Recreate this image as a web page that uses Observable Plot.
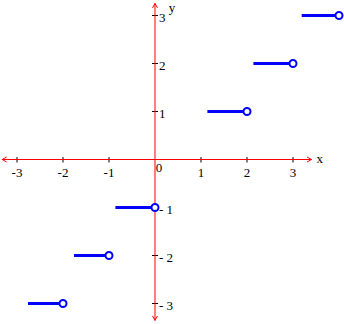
<!DOCTYPE html>
<html>
<head>
<meta charset="utf-8">
<script src="https://cdn.jsdelivr.net/npm/d3@7"></script>
<script src="https://cdn.jsdelivr.net/npm/@observablehq/plot@0.6"></script>
<style>
  html, body { margin: 0; padding: 0; background: white; }
  svg { display: block; }
</style>
</head>
<body>
<div id="chart"></div>
<script>
// Data
const xTicks = [-3, -2, -1, 1, 2, 3];
const xTickLabels = ["-3", "-2", "-1", "1", "2", "3"];
const yTicks = [-3, -2, -1, 1, 2, 3];
const yTickLabels = ["- 3", "- 2", "- 1", "1", "2", "3"];
const stepY = [-3, -2, -1, 1, 2, 3];
const stepStart = [-2.75, -1.75, -0.85, 1.15, 2.15, 3.2];
const stepEnd = [-2, -1, 0, 2, 3, 4];
const xAxisExtent = [-3.32, 3.40];
const yAxisExtent = [-3.35, 3.25];

const vTick = {draw(c) { c.moveTo(0, -2.5); c.lineTo(0, 3); }};
const hTick = {draw(c) { c.moveTo(-3, 0); c.lineTo(3, 0); }};

const axisArrows = [
  {x1: 0, y1: 0, x2: xAxisExtent[0], y2: 0},
  {x1: 0, y1: 0, x2: xAxisExtent[1], y2: 0},
  {x1: 0, y1: 0, x2: 0, y2: yAxisExtent[0]},
  {x1: 0, y1: 0, x2: 0, y2: yAxisExtent[1]}
];

const chart = Plot.plot({
  width: 344,
  height: 324,
  margin: 0,
  x: {domain: [-3.3587, 4.1196], axis: null},
  y: {domain: [-3.4375, 3.3125], axis: null},
  style: {background: "white", fontFamily: "'Liberation Serif', serif", fontSize: "13px", color: "black"},
  marks: [
    Plot.dot(xTicks, {x: d => d, y: 0, symbol: vTick, stroke: "black", fill: "none", strokeWidth: 1}),
    Plot.dot(yTicks, {x: 0, y: d => d, symbol: hTick, stroke: "black", fill: "none", strokeWidth: 1}),
    Plot.arrow(axisArrows, {x1: "x1", y1: "y1", x2: "x2", y2: "y2", stroke: "red", strokeWidth: 1, headLength: 7, headAngle: 60}),
    Plot.ruleY(stepY, {y: d => d, x1: (d, i) => stepStart[i], x2: (d, i) => stepEnd[i], stroke: "blue", strokeWidth: 3}),
    Plot.dot(stepY, {x: (d, i) => stepEnd[i], y: d => d, r: 3.5, stroke: "blue", strokeWidth: 2, fill: "white"}),
    Plot.text(xTicks, {x: d => d, y: 0, text: (d, i) => xTickLabels[i], dy: 13, fill: "black"}),
    Plot.text(yTicks, {x: 0, y: d => d, text: (d, i) => yTickLabels[i], textAnchor: "start", dx: 4, dy: 2, fill: "black"}),
    Plot.text(["0"], {x: 0, y: 0, text: d => d, dx: 4, dy: 8, fill: "black"}),
    Plot.text(["x"], {x: xAxisExtent[1], y: 0, text: d => d, textAnchor: "start", dx: 5, dy: -1, fill: "black"}),
    Plot.text(["y"], {x: 0, y: yAxisExtent[1], text: d => d, dx: 17, dy: 4, fill: "black"})
  ]
});
document.getElementById("chart").appendChild(chart);
</script>
</body>
</html>
